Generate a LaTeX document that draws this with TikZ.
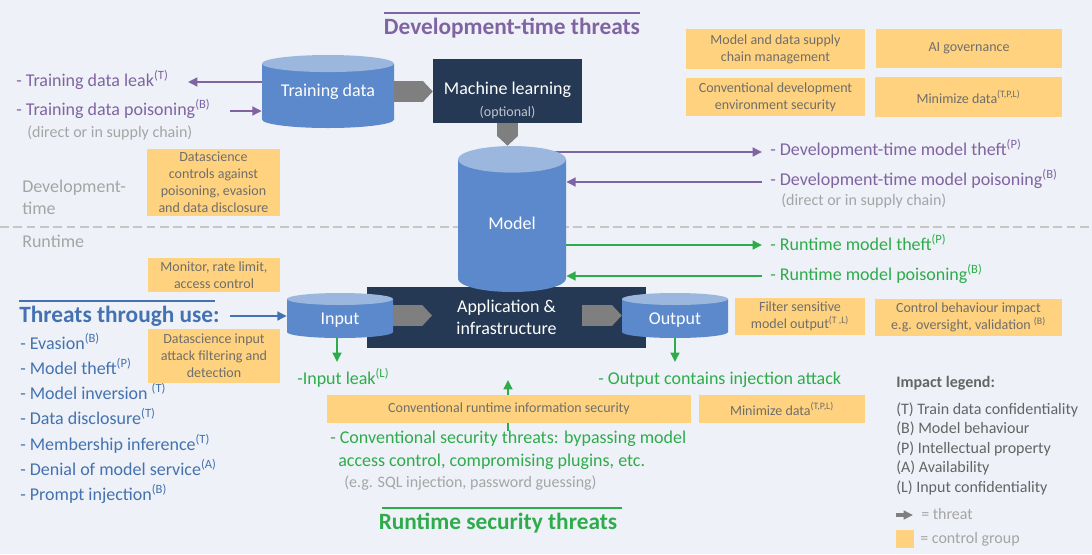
\documentclass[tikz,border=0pt]{standalone}
\usepackage{fontspec}
\setmainfont{Carlito}
\usetikzlibrary{arrows.meta,calc}

\definecolor{bg}{RGB}{238,241,247}
\definecolor{devpurple}{RGB}{128,100,162}
\definecolor{rtgreen}{RGB}{46,172,76}
\definecolor{useblue}{RGB}{68,114,176}
\definecolor{cylbody}{RGB}{91,137,203}
\definecolor{cyltop}{RGB}{156,183,222}
\definecolor{appnavy}{RGB}{37,57,84}
\definecolor{ctrl}{RGB}{254,210,127}
\definecolor{ctrltext}{RGB}{112,110,106}
\definecolor{blockgray}{RGB}{127,127,127}
\definecolor{notegray}{RGB}{165,165,165}
\definecolor{divgray}{RGB}{198,198,198}
\definecolor{legendgray}{RGB}{100,100,100}
\definecolor{optgray}{RGB}{190,196,206}

\newcommand{\imp}[1]{\textsuperscript{(#1)}}
\newcommand{\fsz}[2]{\fontsize{#1}{#2}\selectfont}

\pgfdeclarelayer{background}
\pgfsetlayers{background,main}

\tikzset{
  boxsize/.style 2 args={minimum width=#1*0.75pt, minimum height=#2*0.75pt},
  % cylinder drawn inside its own node, #1 = radius of the end ellipse
  cyl/.style={text=white, font=\fsz{13.5}{16},
    path picture={
      \fill[cylbody] let \p1=(path picture bounding box.north west),
        \p2=(path picture bounding box.south east), \n1={(\x2-\x1)/2} in
        (\x1,\y1-#1) -- (\x1,\y2+#1)
        arc[start angle=180, end angle=360, x radius=\n1, y radius=#1]
        -- (\x2,\y1-#1) -- cycle;
      \fill[cyltop] let \p1=(path picture bounding box.north west),
        \p2=(path picture bounding box.south east), \n1={(\x2-\x1)/2} in
        (\x1+\n1,\y1-#1) ellipse[x radius=\n1, y radius=#1];
    }},
  navybox/.style={fill=appnavy, text=white, align=center, font=\fsz{13.5}{16.5}},
  ctrlbox/.style={fill=ctrl, text=ctrltext, align=center, font=\fsz{10.5}{12.75}},
  blockarrow/.style={draw=blockgray, line width=16pt,
    -{Triangle[length=7.5pt, width=16pt, line width=0pt]}},
  threat/.style={line width=2.2pt, -{Triangle[length=7pt, width=6.5pt]}},
  threattxt/.style={font=\fsz{13.5}{16}, anchor=base west},
  note/.style={text=notegray, font=\fsz{12}{14}, anchor=base west},
  phase/.style={text=notegray, font=\fsz{13.5}{16}, anchor=base west},
  heading/.style={font=\bfseries\fsz{17.5}{20}},
  legtxt/.style={text=legendgray, font=\fsz{12}{14}, anchor=base west},
}

\begin{document}
\begin{tikzpicture}[x=0.75pt, y=-0.75pt, every node/.style={inner sep=0pt}]
% canvas
\begin{pgfonlayer}{background}
\fill[bg] (0,0) rectangle (1092,554);
\end{pgfonlayer}
\useasboundingbox (0,0) rectangle (1092,554);

% divider
\draw[divgray, line width=2.2pt, dash pattern=on 6.5pt off 3.5pt] (0,227) -- (1092,227);
\node[phase] (devphase) at (22,192) {Development-};
\node[phase] (devphase2) at (22,214) {time};
\node[phase] (rtphase) at (22,247) {Runtime};

% titles
\node[heading, text=devpurple, anchor=base] (devtitle) at (512,34) {Development-time threats};
\draw[devpurple, line width=1.5pt] ([yshift=3.4pt]devtitle.north west) -- ([yshift=3.4pt]devtitle.north east);
\node[heading, text=rtgreen, anchor=base] (rttitle) at (498,529) {Runtime security threats};
\draw[rtgreen, line width=1.5pt] ([xshift=3pt,yshift=3.4pt]rttitle.north west) -- ([xshift=3pt,yshift=3.4pt]rttitle.north east);

% main flow
\node[cyl=6.4pt, boxsize={132}{73}] (train) at (328,91.5) {Training data};
\node[navybox, boxsize={149}{64}] (ml) at (507.5,91)
  {\rule{0pt}{23pt}Machine learning\\{\fsz{10.5}{14}\color{optgray}(optional)}};
\node[navybox, boxsize={279}{61}] (app) at (506.5,317.5) {Application \&\\infrastructure};
\node[cyl=10pt, boxsize={108}{146}] (model) at (512,219) {\rule{0pt}{15.3pt}Model};
\node[cyl=4.5pt, boxsize={106}{45}] (input) at (340,315.5) {\rule{0pt}{15.5pt}Input};
\node[cyl=4.5pt, boxsize={106}{45}] (output) at (675,315.5) {\rule{0pt}{15.5pt}Output};

\coordinate (apptipin) at (432,316);
\coordinate (appoutfoot) at (582,316);
\draw[blockarrow] (train.east) -- (train.east -| ml.west);
\draw[blockarrow] (ml.south) -- (ml.south |- model.north);
\draw[blockarrow] (input.east) -- (input.east -| apptipin);
\draw[blockarrow] (output.west -| appoutfoot) -- (output.west);

% development-time threats
\node[threattxt, text=devpurple] (leaktxt) at (16,86) {- Training data leak\imp{T}};
\node[threattxt, text=devpurple] (poistxt) at (16,115) {- Training data poisoning\imp{B}};
\node[note] (poisnote) at (27,137) {(direct or in supply chain)};
\node[threattxt, text=devpurple] (dtthefttxt) at (770,155) {- Development-time model theft\imp{P}};
\node[threattxt, text=devpurple] (dtpoistxt) at (770,185) {- Development-time model poisoning\imp{B}};
\node[note] (dtpoisnote) at (781,205) {(direct or in supply chain)};

% runtime threats
\node[threattxt, text=rtgreen] (rtthefttxt) at (770,250) {- Runtime model theft\imp{P}};
\node[threattxt, text=rtgreen] (rtpoistxt) at (770,280) {- Runtime model poisoning\imp{B}};
\node[threattxt, text=rtgreen] (inleaktxt) at (297,384) {-Input leak\imp{L}};
\node[threattxt, text=rtgreen] (outinjtxt) at (598,384) {- Output contains injection attack};
\node[threattxt, text=rtgreen] (convtxt) at (330,443) {- Conventional security threats: bypassing model};
\node[threattxt, text=rtgreen] (convtxt2) at (338,466) {access control, compromising plugins, etc.};
\node[note] (convnote) at (344,487) {(e.g. SQL injection, password guessing)};

% threats through use
\node[heading, text=useblue, anchor=base west] (usetitle) at (19,322) {Threats through use:};
\draw[useblue, line width=1.5pt] ([yshift=3.6pt]usetitle.north west) -- ([xshift=-4pt,yshift=3.6pt]usetitle.north east);
\foreach \thr [count=\i] in {Evasion\imp{B}, Model theft\imp{P}, Model inversion \imp{T},
    Data disclosure\imp{T}, Membership inference\imp{T}, Denial of model service\imp{A},
    Prompt injection\imp{B}}
  \node[threattxt, text=useblue] (use\i) at (20,{349+25.3*(\i-1)}) {- \thr};

% control groups
\node[ctrlbox, boxsize={133}{67}] (dsctrl) at (213.5,182.5)
  {Datascience\\controls against\\poisoning, evasion\\and data disclosure};
\node[ctrlbox, boxsize={179}{40}] (supply) at (775.5,49) {Model and data supply\\chain management};
\node[ctrlbox, boxsize={186}{39}] (gov) at (969,48.5) {AI governance};
\node[ctrlbox, boxsize={179}{38}] (devsec) at (775.5,97) {Conventional development\\environment security};
\node[ctrlbox, boxsize={187}{40}] (mindev) at (968.5,97) {Minimize data\imp{T,P,L}};
\node[ctrlbox, boxsize={132}{34}] (monitor) at (214,275) {Monitor, rate limit,\\access control};
\node[ctrlbox, boxsize={132}{54}] (dsinput) at (214,356) {Datascience input\\attack filtering and\\detection};
\node[ctrlbox, boxsize={130}{37}] (filter) at (800,316.5) {Filter sensitive\\model output\imp{T ,L}};
\node[ctrlbox, boxsize={187}{37}] (behav) at (968.5,317.5) {Control behaviour impact\\e.g. oversight, validation \imp{B}};
\node[ctrlbox, boxsize={364}{28}] (rtsec) at (509,409) {Conventional runtime information security};
\node[ctrlbox, boxsize={166}{28}] (minrt) at (782,409) {Minimize data\imp{T,P,L}};

% threat arrows
\coordinate (leaktip) at (188,82);
\coordinate (poisfoot) at (230,111);
\coordinate (dtthefttip) at (762,152);
\coordinate (dtpoisfoot) at (762,182);
\coordinate (rtthefttip) at (762,245);
\coordinate (rtpoisfoot) at (762,276);
\coordinate (usefoot) at (230,316);
\coordinate (inleaktip) at (337,362);
\coordinate (outtip) at (675,362);
\coordinate (convfoot) at (508,431);
\coordinate (convtip) at (508,380);
\begin{pgfonlayer}{background}
\draw[threat, devpurple] (train.west |- leaktip) -- (leaktip);
\draw[threat, devpurple] (poisfoot) -- (poisfoot -| train.west);
\draw[threat, devpurple] (model.center |- dtthefttip) -- (dtthefttip);
\draw[threat, devpurple] (dtpoisfoot) -- (dtpoisfoot -| model.east);
\draw[threat, rtgreen] (model.center |- rtthefttip) -- (rtthefttip);
\draw[threat, rtgreen] (rtpoisfoot) -- (rtpoisfoot -| model.east);
\draw[threat, useblue] (usefoot) -- (usefoot -| input.west);
\draw[threat, rtgreen] (inleaktip |- input.south) -- (inleaktip);
\draw[threat, rtgreen] (outtip |- output.south) -- (outtip);
\draw[threat, rtgreen] (convfoot) -- (convtip);
\end{pgfonlayer}

% impact legend
\node[legtxt, font=\bfseries\fsz{12}{14}] (legtitle) at (896,387) {Impact legend:};
\foreach \thr [count=\i] in {{(T) Train data confidentiality}, {(B) Model behaviour},
    {(P) Intellectual property}, {(A) Availability}, {(L) Input confidentiality}}
  \node[legtxt] (leg\i) at (896,{414+19.6*(\i-1)}) {\thr};
\coordinate (legfoot) at (896,515);
\coordinate (legtip) at (913,515);
\draw[threat, blockgray, line width=2.5pt] (legfoot) -- (legtip);
\node[legtxt, text=notegray] (legthreat) at (921,519) {= threat};
\node[fill=ctrl, boxsize={18}{18}] (legswatch) at (905,539) {};
\node[legtxt, text=notegray] (legctrl) at (920,543) {= control group};
\end{tikzpicture}
\end{document}
